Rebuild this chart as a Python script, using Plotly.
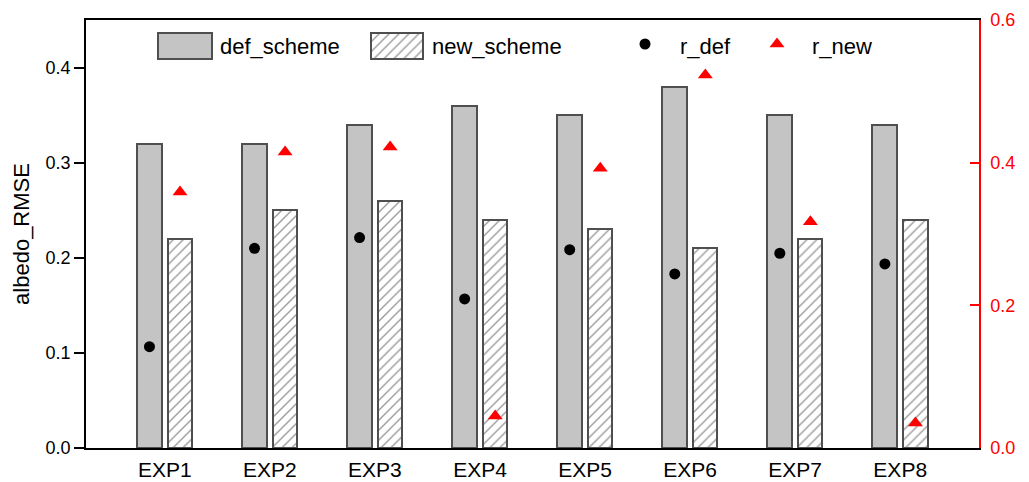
import numpy as np
import plotly.graph_objects as go

# ---- data ----
experiments = ["EXP1", "EXP2", "EXP3", "EXP4", "EXP5", "EXP6", "EXP7", "EXP8"]
def_scheme = [0.32, 0.32, 0.34, 0.36, 0.35, 0.38, 0.35, 0.34]
new_scheme = [0.22, 0.25, 0.26, 0.24, 0.23, 0.21, 0.22, 0.24]
r_def = [0.142, 0.280, 0.295, 0.209, 0.278, 0.244, 0.273, 0.258]
r_new = [0.359, 0.415, 0.422, 0.045, 0.392, 0.523, 0.317, 0.035]
left_ticks = [0.0, 0.1, 0.2, 0.3, 0.4]
right_ticks = [0.0, 0.2, 0.4, 0.6]

# ---- styling ----
FONT = "Liberation Sans, Arial, sans-serif"
GREY_FILL = "#c4c4c4"
EDGE = "#4f4f4f"
HATCH = dict(shape="/", fgcolor="#383838", bgcolor="white", size=7, solidity=0.2)
DEF_OFF, DEF_W = -0.265, 0.238
NEW_OFF, NEW_W = 0.03, 0.23

idx = np.arange(len(experiments))

fig = go.Figure()

fig.add_trace(go.Bar(
    x=idx, y=def_scheme, offset=DEF_OFF, width=DEF_W, name="def_scheme",
    marker=dict(color=GREY_FILL, line=dict(color=EDGE, width=2)),
    showlegend=False,
))
fig.add_trace(go.Bar(
    x=idx, y=new_scheme, offset=NEW_OFF, width=NEW_W, name="new_scheme",
    marker=dict(color="white", pattern=HATCH, line=dict(color=EDGE, width=2)),
    showlegend=False,
))
fig.add_trace(go.Scatter(
    x=idx + DEF_OFF + DEF_W / 2, y=r_def, mode="markers", name="r_def",
    marker=dict(symbol="circle", size=11, color="black"),
    yaxis="y2", showlegend=False,
))
fig.add_trace(go.Scatter(
    x=idx + NEW_OFF + NEW_W / 2, y=r_new, mode="markers", name="r_new",
    marker=dict(symbol="triangle-up", size=13, color="red"),
    yaxis="y2", showlegend=False,
))

# ---- legend, drawn on a hidden overlay axis measured in pixels ----
lx = dict(xaxis="x3", yaxis="y3", showlegend=False, hoverinfo="skip")
fig.add_trace(go.Bar(x=[185], y=[26], base=[33], width=[54],
                     marker=dict(color=GREY_FILL, line=dict(color=EDGE, width=2)), **lx))
fig.add_trace(go.Bar(x=[397], y=[26], base=[33], width=[52],
                     marker=dict(color="white", pattern=HATCH, line=dict(color=EDGE, width=2)), **lx))
fig.add_trace(go.Scatter(x=[645], y=[44], mode="markers",
                         marker=dict(symbol="circle", size=11, color="black"), **lx))
fig.add_trace(go.Scatter(x=[777], y=[44], mode="markers",
                         marker=dict(symbol="triangle-up", size=13, color="red"), **lx))
for px, label in [(218, "def_scheme"), (430, "new_scheme"), (678, "r_def"), (810, "r_new")]:
    fig.add_annotation(x=px, y=46, xref="x3", yref="y3", text=label, showarrow=False,
                       xanchor="left", yanchor="middle",
                       font=dict(family=FONT, size=22, color="black"))

# right-axis title, sitting at the page edge
fig.add_annotation(x=1.048, y=0.493, xref="paper", yref="paper", text="r", showarrow=False,
                   textangle=-90, xanchor="left", yanchor="middle",
                   font=dict(family=FONT, size=22, color="red"))

fig.update_layout(
    width=1029, height=482,
    margin=dict(l=86, r=50, t=20, b=34, autoexpand=False),
    paper_bgcolor="white", plot_bgcolor="white",
    barmode="overlay", bargap=0,
    font=dict(family=FONT, color="black"),
    xaxis=dict(
        range=[-0.75, 7.75], tickvals=idx, ticktext=experiments,
        showline=True, linecolor="black", linewidth=1.5, mirror=True,
        ticks="", showgrid=False, zeroline=False, ticklabelstandoff=2,
        tickfont=dict(family=FONT, size=21, color="black"),
        automargin=False,
    ),
    yaxis=dict(
        range=[0, 0.45], tickvals=left_ticks, tickformat=".1f",
        ticks="outside", ticklen=10, tickwidth=1.5, tickcolor="black",
        showline=True, linecolor="black", linewidth=1.5,
        showgrid=False, zeroline=False,
        tickfont=dict(family=FONT, size=18, color="black"),
        title=dict(text="albedo_RMSE", font=dict(family=FONT, size=22, color="black"), standoff=10),
        automargin=False,
    ),
    yaxis2=dict(
        overlaying="y", side="right", range=[0, 0.6],
        tickvals=right_ticks, tickformat=".1f",
        ticks="inside", ticklen=9, tickwidth=1.5, tickcolor="red",
        showline=True, linecolor="red", linewidth=1.5,
        showgrid=False, zeroline=False, ticklabelstandoff=6,
        tickfont=dict(family=FONT, size=18, color="red"),
        automargin=False,
    ),
    xaxis3=dict(overlaying="x", anchor="y3", range=[86, 979], visible=False, fixedrange=True),
    yaxis3=dict(overlaying="y", anchor="x3", range=[448, 20], visible=False, fixedrange=True),
)

fig.write_html("out.html")
